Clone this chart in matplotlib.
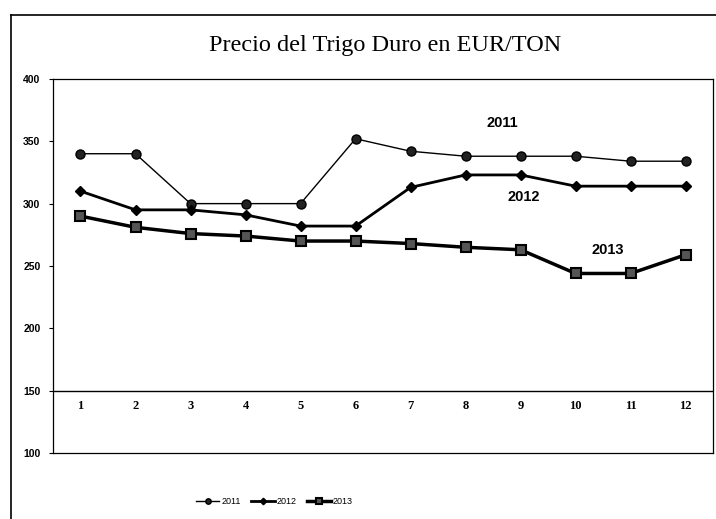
import matplotlib
matplotlib.use("Agg")
import matplotlib.pyplot as plt
from matplotlib.lines import Line2D

# Precio del trigo duro (EUR/TON) por mes
months = list(range(1, 13))
precio_2011 = [340, 340, 300, 300, 300, 352, 342, 338, 338, 338, 334, 334]
precio_2012 = [310, 295, 295, 291, 282, 282, 313, 323, 323, 314, 314, 314]
precio_2013 = [290, 281, 276, 274, 270, 270, 268, 265, 263, 244, 244, 259]
y_ticks = [100, 150, 200, 250, 300, 350, 400]

fig = plt.figure(figsize=(7.16, 5.19), dpi=100)
ax = fig.add_axes([0.074, 0.127, 0.922, 0.721])

ax.plot(months, precio_2011, color="black", lw=1.0, marker="o", ms=6.5,
        mfc="#222222", mec="black", label="2011")
ax.plot(months, precio_2012, color="black", lw=2.0, marker="D", ms=5.5,
        mfc="black", mec="black", label="2012")
ax.plot(months, precio_2013, color="black", lw=2.5, marker="s", ms=7.5,
        mfc="#555555", mec="black", mew=1.5, label="2013")

# series labels inside the plot
for txt, x, y in [("2011", 8.67, 365), ("2012", 9.05, 305.5), ("2013", 10.58, 263)]:
    ax.text(x, y, txt, fontsize=10.5, fontweight="bold", ha="center", va="center",
            family="Liberation Sans")

ax.set_xlim(0.5, 12.5)
ax.set_ylim(100, 400)
ax.set_yticks(y_ticks)
ax.set_yticklabels([str(v) for v in y_ticks], fontsize=7.5, fontweight="bold",
                   family="Liberation Sans")
ax.tick_params(axis="y", length=3, width=0.8, pad=6)
ax.set_xticks([])

# category axis crosses at 150
ax.axhline(150, color="black", lw=1.0)
for m in months:
    ax.annotate(str(m), (m, 150), xytext=(0, -7), textcoords="offset points",
                ha="center", va="top", fontsize=9, fontweight="bold",
                family="Liberation Serif")

for s in ax.spines.values():
    s.set_linewidth(0.9)
    s.set_color("black")

fig.text(0.538, 0.913, "Precio del Trigo Duro en EUR/TON", ha="center", va="center",
         fontsize=17.5, family="Liberation Serif")

# outer chart frame (left and top edges)
fig.add_artist(Line2D([0.016, 0.016], [0.0, 0.972], color="black", lw=1.2,
                      transform=fig.transFigure))
fig.add_artist(Line2D([0.016, 1.0], [0.972, 0.972], color="black", lw=1.2,
                      transform=fig.transFigure))

fig.legend(loc="center", bbox_to_anchor=(0.383, 0.033), ncol=3, frameon=False,
           prop={"family": "Liberation Sans", "size": 6.5}, handlelength=2.6,
           columnspacing=1.2, handletextpad=0.2, markerscale=0.6)

fig.savefig("out.png", dpi=100)
